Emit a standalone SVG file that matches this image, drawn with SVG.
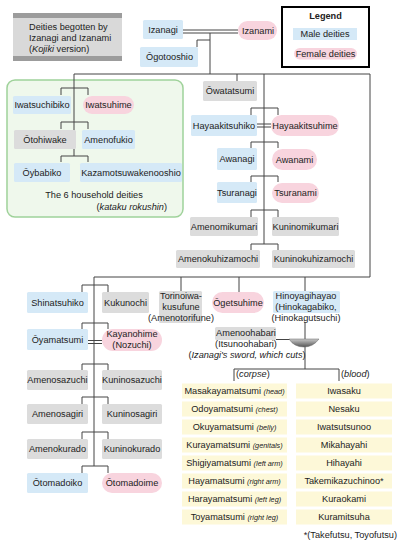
<svg xmlns="http://www.w3.org/2000/svg" width="400" height="542" viewBox="0 0 400 542">
<style>
text{font-family:"Liberation Sans",Arial,sans-serif;font-size:9.2px;fill:#222}
.c{text-anchor:middle}
.i{font-style:italic}
.s{font-size:7.3px;font-style:italic}
.m{fill:#d5e9f7}
.f{fill:#f8d4de}
.g{fill:#dcdcdc}
.y{fill:#fdf8d8}
.ln{fill:none;stroke:#444;stroke-width:1}
</style>
<rect width="400" height="542" fill="#fff"/>
<g id="title">
<rect x="13" y="13" width="109" height="48" fill="#d9d9d9"/>
<rect x="13" y="13" width="109" height="5" fill="#9c9c9c"/>
<rect x="13" y="56" width="109" height="5" fill="#9c9c9c"/>
<text x="29" y="29.5">Deities begotten by</text>
<text x="29" y="40.5">Izanagi and Izanami</text>
<text x="29" y="51.5">(<tspan class="i">Kojiki</tspan> version)</text>
</g>
<g id="legend">
<rect x="282" y="7" width="87" height="60" fill="#fff" stroke="#000" stroke-width="2"/>
<text x="325.5" y="18.5" class="c" font-weight="bold">Legend</text>
<rect x="293" y="28" width="64" height="12" class="m"/>
<text x="325" y="37.3" class="c">Male deities</text>
<rect x="294" y="48" width="63" height="11.5" rx="5.75" class="f"/>
<text x="325.5" y="57" class="c">Female deities</text>
</g>
<g id="household-frame">
<rect x="7" y="80" width="176" height="137" rx="8" fill="#eff8ec" stroke="#9fd29a" stroke-width="1.5"/>
<text x="94" y="198.3" class="c">The 6 household deities</text>
<text x="167" y="210.3" text-anchor="end">(<tspan class="i">kataku rokushin</tspan>)</text>
</g>
<g id="connectors" class="ln">
<path d="M183,30H238M183,33H238"/>
<path d="M210,33V74M210,40H197V47"/>
<path d="M74,74H370V277M74,74V156M237,74V81M264,74V244"/>
<path d="M61,95V88H88V95M61,129V122H88V129M61,162V156H88V162"/>
<path d="M251,115V108H278V115M251,148V142H278V148M251,182V176H278V182M251,217V210H278V217M251,250V244H278V250"/>
<path d="M257,124H271M257,127H271"/>
<path d="M94,277H370M181,277V291M239,277V292M305,277V291M94,277V466"/>
<path d="M82,292V285H108V292M82,329V323H108V329M82,370V364H108V370M82,404V397H108V404M82,439V432H108V439M82,473V466H108V473"/>
<path d="M88,340.5H102M88,343.5H102"/>
<path d="M305,322V369M234,381V369H339V381"/>
<path d="M276,339.5H290"/>
</g>
<g id="sword">
<defs><linearGradient id="sg" x1="0" y1="0" x2="0" y2="1"><stop offset="0" stop-color="#c8c8c8"/><stop offset="1" stop-color="#555"/></linearGradient></defs>
<path d="M289,339H319Q313,347 304,347Q294,347 289,339Z" fill="url(#sg)" stroke="#666" stroke-width="0.5"/>
</g>
<g id="izanagi"><rect x="143" y="20" width="40" height="19" rx="1.5" class="m"/><text x="163" y="32.8" class="c">Izanagi</text></g>
<g id="izanami"><rect x="238" y="21" width="39" height="19" rx="9.5" class="f"/><text x="258" y="33.8" class="c">Izanami</text></g>
<g id="ogotooshio"><rect x="140" y="47" width="58" height="20" rx="1.5" class="m"/><text x="169.5" y="60.3" class="c">Ōgotooshio</text></g>
<g id="iwatsuchibiko"><rect x="13" y="96" width="58" height="18" rx="1.5" class="m"/><text x="42" y="108.3" class="c">Iwatsuchibiko</text></g>
<g id="iwatsuhime"><rect x="83" y="96" width="51" height="18" rx="9" class="f"/><text x="108.5" y="108.3" class="c">Iwatsuhime</text></g>
<g id="otohiwake"><rect x="14" y="130" width="62" height="19" rx="1.5" class="g"/><text x="45" y="142.8" class="c">Ōtohiwake</text></g>
<g id="amenofukio"><rect x="82" y="130" width="53" height="19" rx="1.5" class="m"/><text x="108.5" y="142.8" class="c">Amenofukio</text></g>
<g id="oybabiko"><rect x="14" y="163" width="56" height="19" rx="1.5" class="m"/><text x="42" y="175.8" class="c">Ōybabiko</text></g>
<g id="kazamotsuwakenooshio"><rect x="80" y="163" width="102" height="19" rx="1.5" class="m"/><text x="131" y="175.8" class="c">Kazamotsuwakenooshio</text></g>
<g id="owatatsumi"><rect x="203" y="81" width="54" height="20" rx="1.5" class="g"/><text x="230" y="94.3" class="c">Ōwatatsumi</text></g>
<g id="hayaakitsuhiko"><rect x="191" y="115" width="66" height="21" rx="1.5" class="m"/><text x="224" y="128.8" class="c">Hayaakitsuhiko</text></g>
<g id="hayaakitsuhime"><rect x="271" y="115" width="68" height="21" rx="10.5" class="f"/><text x="305" y="128.8" class="c">Hayaakitsuhime</text></g>
<g id="awanagi"><rect x="217" y="148" width="40" height="22" rx="1.5" class="m"/><text x="237" y="162.3" class="c">Awanagi</text></g>
<g id="awanami"><rect x="272" y="149" width="45" height="21" rx="10.5" class="f"/><text x="294.5" y="162.8" class="c">Awanami</text></g>
<g id="tsuranagi"><rect x="217" y="182" width="40" height="21" rx="1.5" class="m"/><text x="237" y="195.8" class="c">Tsuranagi</text></g>
<g id="tsuranami"><rect x="272" y="183" width="47" height="20" rx="10" class="f"/><text x="295.5" y="196.3" class="c">Tsuranami</text></g>
<g id="amenomikumari"><rect x="190" y="217" width="68" height="19" rx="1.5" class="g"/><text x="224" y="229.8" class="c">Amenomikumari</text></g>
<g id="kuninomikumari"><rect x="272" y="217" width="67" height="19" rx="1.5" class="g"/><text x="305.5" y="229.8" class="c">Kuninomikumari</text></g>
<g id="amenokuhizamochi"><rect x="176" y="250" width="84" height="18" rx="1.5" class="g"/><text x="218" y="262.3" class="c">Amenokuhizamochi</text></g>
<g id="kuninokuhizamochi"><rect x="272" y="250" width="83" height="18" rx="1.5" class="g"/><text x="313.5" y="262.3" class="c">Kuninokuhizamochi</text></g>
<g id="shinatsuhiko"><rect x="27" y="292" width="61" height="21" rx="1.5" class="m"/><text x="57.5" y="305.8" class="c">Shinatsuhiko</text></g>
<g id="kukunochi"><rect x="102" y="292" width="47" height="21" rx="1.5" class="g"/><text x="125.5" y="305.8" class="c">Kukunochi</text></g>
<g id="torinoiwakusufune"><rect x="159" y="291" width="43" height="32" rx="1.5" class="g"/><text x="181" y="299.3" class="c">Torinoiwa-</text><text x="181" y="310.3" class="c">kusufune</text><text x="181" y="320.8" class="c">(Amenotorifune)</text></g>
<g id="ogetsuhime"><rect x="212" y="292" width="52" height="21" rx="10.5" class="f"/><text x="238" y="305.8" class="c">Ōgetsuhime</text></g>
<g id="hinoyagihayao"><rect x="273" y="291" width="67" height="22" rx="1.5" class="m"/><text x="306" y="298.8" class="c">Hinoyagihayao</text><text x="306" y="309.8" class="c">(Hinokagabiko,</text><text x="306" y="320.8" class="c">(Hinokagutsuchi)</text></g>
<g id="oyamatsumi"><rect x="27" y="329" width="61" height="21" rx="1.5" class="m"/><text x="57.5" y="342.8" class="c">Ōyamatsumi</text></g>
<g id="kayanohime"><rect x="102" y="329" width="60" height="22" rx="11" class="f"/><text x="132" y="337.3" class="c">Kayanohime</text><text x="132" y="348.3" class="c">(Nozuchi)</text></g>
<g id="amenosazuchi"><rect x="27" y="370" width="61" height="20" rx="1.5" class="g"/><text x="57.5" y="383.3" class="c">Amenosazuchi</text></g>
<g id="kuninosazuchi"><rect x="102" y="370" width="60" height="20" rx="1.5" class="g"/><text x="132" y="383.3" class="c">Kuninosazuchi</text></g>
<g id="amenosagiri"><rect x="27" y="404" width="61" height="20" rx="1.5" class="g"/><text x="57.5" y="417.3" class="c">Amenosagiri</text></g>
<g id="kuninosagiri"><rect x="102" y="404" width="60" height="20" rx="1.5" class="g"/><text x="132" y="417.3" class="c">Kuninosagiri</text></g>
<g id="amenokurado"><rect x="27" y="439" width="61" height="20" rx="1.5" class="g"/><text x="57.5" y="452.3" class="c">Amenokurado</text></g>
<g id="kuninokurado"><rect x="102" y="439" width="60" height="20" rx="1.5" class="g"/><text x="132" y="452.3" class="c">Kuninokurado</text></g>
<g id="otomadoiko"><rect x="27" y="473" width="61" height="20" rx="1.5" class="m"/><text x="57.5" y="486.3" class="c">Ōtomadoiko</text></g>
<g id="otomadoime"><rect x="102" y="473" width="60" height="20" rx="10" class="f"/><text x="132" y="486.3" class="c">Ōtomadoime</text></g>
<g id="amenoohabari"><rect x="215" y="327" width="61" height="13" rx="1.5" class="g"/><text x="246" y="336.3" class="c">Amenoohabari</text><text x="246" y="347.3" class="c">(Itsunoohabari)</text><text x="247" y="358.3" class="c">(<tspan class="i">Izanagi's sword, which cuts</tspan>)</text></g>
<g id="labels"><text x="236" y="377.3">(<tspan class="i">corpse</tspan>)</text><text x="341" y="377.3">(<tspan class="i">blood</tspan>)</text></g>
<g id="corpse">
<rect x="182" y="383.5" width="105" height="15" class="y"/><text x="234.5" y="394.3" class="c">Masakayamatsumi <tspan class="s">(head)</tspan></text>
<rect x="182" y="401.5" width="105" height="15" class="y"/><text x="234.5" y="412.3" class="c">Odoyamatsumi <tspan class="s">(chest)</tspan></text>
<rect x="182" y="419.5" width="105" height="15" class="y"/><text x="234.5" y="430.3" class="c">Okuyamatsumi <tspan class="s">(belly)</tspan></text>
<rect x="182" y="437.5" width="105" height="15" class="y"/><text x="234.5" y="448.3" class="c">Kurayamatsumi <tspan class="s">(genitals)</tspan></text>
<rect x="182" y="455.5" width="105" height="15" class="y"/><text x="234.5" y="466.3" class="c">Shigiyamatsumi <tspan class="s">(left arm)</tspan></text>
<rect x="182" y="473.5" width="105" height="15" class="y"/><text x="234.5" y="484.3" class="c">Hayamatsumi <tspan class="s">(right arm)</tspan></text>
<rect x="182" y="491.5" width="105" height="15" class="y"/><text x="234.5" y="502.3" class="c">Harayamatsumi <tspan class="s">(left leg)</tspan></text>
<rect x="182" y="509.5" width="105" height="15" class="y"/><text x="234.5" y="520.3" class="c">Toyamatsumi <tspan class="s">(right leg)</tspan></text>
</g>
<g id="blood">
<rect x="296" y="383.5" width="96" height="15" class="y"/><text x="344" y="394.3" class="c">Iwasaku</text>
<rect x="296" y="401.5" width="96" height="15" class="y"/><text x="344" y="412.3" class="c">Nesaku</text>
<rect x="296" y="419.5" width="96" height="15" class="y"/><text x="344" y="430.3" class="c">Iwatsutsunoo</text>
<rect x="296" y="437.5" width="96" height="15" class="y"/><text x="344" y="448.3" class="c">Mikahayahi</text>
<rect x="296" y="455.5" width="96" height="15" class="y"/><text x="344" y="466.3" class="c">Hihayahi</text>
<rect x="296" y="473.5" width="96" height="15" class="y"/><text x="344" y="484.3" class="c">Takemikazuchinoo*</text>
<rect x="296" y="491.5" width="96" height="15" class="y"/><text x="344" y="502.3" class="c">Kuraokami</text>
<rect x="296" y="509.5" width="96" height="15" class="y"/><text x="344" y="520.3" class="c">Kuramitsuha</text>
<text x="397" y="538" text-anchor="end">*(Takefutsu, Toyofutsu)</text>
</g>
</svg>
